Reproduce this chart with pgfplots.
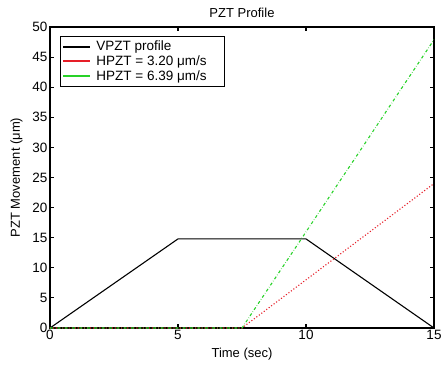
\documentclass[border=0pt]{standalone}
\usepackage{pgfplots}
\pgfplotsset{compat=1.18}
\usepackage{fontspec}
\setmainfont{Liberation Sans}
\definecolor{mgreen}{RGB}{40,210,40}
\definecolor{mred}{RGB}{230,30,40}
\begin{document}
\begin{tikzpicture}
\begin{axis}[
  scale only axis,
  width=384bp, height=301bp,
  xmin=0, xmax=15, ymin=0, ymax=50,
  xtick={0,5,10,15}, ytick={0,5,...,50},
  tick align=inside,
  major tick length=4bp,
  axis line style={line width=1.4pt},
  tick style={black, line width=1.2pt},
  clip=false,
  font=\fontsize{13.5bp}{15bp}\selectfont,
  /pgf/number format/assume math mode=true,
  ticklabel style={font=\fontsize{13.5bp}{15bp}\selectfont},
  title={PZT Profile},
  title style={yshift=0bp, font=\fontsize{13bp}{15bp}\selectfont},
  xlabel={Time (sec)},
  ylabel={PZT Movement (μm)},
  label style={font=\fontsize{13bp}{15bp}\selectfont},
  xlabel style={yshift=-1bp},
  ylabel style={yshift=3bp},
  xticklabel style={yshift=1bp},
  yticklabel style={xshift=1bp},
  legend style={at={(0.026,0.97)}, anchor=north west, draw=black, line width=1pt,
    font=\fontsize{13.5bp}{15bp}\selectfont, row sep=-0.5bp, inner xsep=2bp, inner ysep=2.5bp,
    /tikz/every odd column/.append style={column sep=3bp}},
  legend cell align=left,
  legend image code/.code={\draw[#1] (4bp,0bp) -- (31bp,0bp);},
]
\addlegendimage{black, solid, line width=2pt}
\addlegendentry{VPZT profile}
\addlegendimage{mred, solid, line width=2pt}
\addlegendentry{HPZT = 3.20 μm/s\rule{14bp}{0pt}}
\addlegendimage{mgreen, solid, line width=2pt}
\addlegendentry{HPZT = 6.39 μm/s\rule{14bp}{0pt}}
\addplot[black, line width=1.1pt, forget plot] coordinates {(0,0) (5,14.8) (10,14.8) (15,0)};
\addplot[mred, dotted, line width=1.1pt, forget plot] coordinates {(0,0) (7.5,0) (15,24.0)};
\addplot[mgreen, dash dot, line width=1.1pt, forget plot] coordinates {(0,0) (7.5,0) (15,47.9)};
\end{axis}
\pgfresetboundingbox
\path ([shift={(-50bp,-38bp)}]current axis.south west) rectangle ([shift={(8bp,27bp)}]current axis.north east);
\end{tikzpicture}
\end{document}
